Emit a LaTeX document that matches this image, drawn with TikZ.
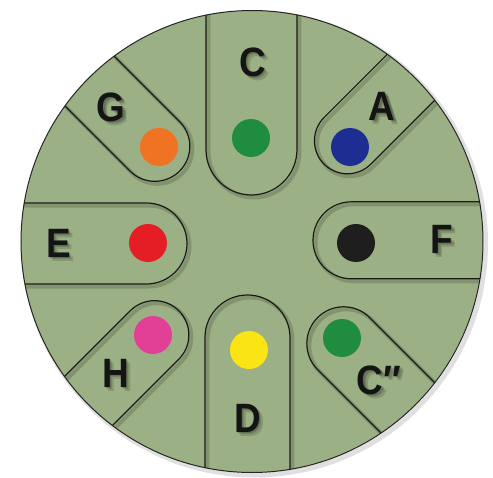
\documentclass[tikz,border=0pt]{standalone}
\usepackage{fontspec}
\setmainfont{Liberation Sans}
\newfontfamily\notefont[FakeStretch=0.9]{Liberation Sans Bold}
\definecolor{drum}{RGB}{155,176,132}
\definecolor{cgreen}{RGB}{32,140,64}
\definecolor{ablue}{RGB}{30,45,145}
\definecolor{gorange}{RGB}{240,115,35}
\definecolor{ered}{RGB}{228,30,36}
\definecolor{fblack}{RGB}{30,30,30}
\definecolor{hpink}{RGB}{226,64,150}
\definecolor{dyellow}{RGB}{250,228,20}
\tikzset{
  rim/.style={draw=black!85, line width=1pt},
  tongueline/.style={draw=black!90, line width=1.2pt},
  shade/.style={draw=black, opacity=0.16, line width=4pt},
  spot/.style={circle, minimum size=38pt, inner sep=0pt, draw=none},
  note/.style={font=\notefont\fontsize{41}{41}\selectfont, inner sep=0pt, text=black!92},
  noteshadow/.style={note, text=black, opacity=0.14},
}
\newcommand\tonguepath[4]{(260,#4+#3) -- (#2,#4+#3) arc[start angle=90,end angle=270,radius=#3] -- (260,#4-#3)}
\newcommand\tongue[4]{%
  \begin{scope}[shift={(2.5,-2.5)},rotate=#1]
    \draw[shade] \tonguepath{#1}{#2}{#3}{#4};
  \end{scope}
  \begin{scope}[rotate=#1]
    \draw[tongueline] \tonguepath{#1}{#2}{#3}{#4};
  \end{scope}}
\newcommand\notelabel[3]{%
  \foreach \d in {1,2,3} {
    \node[noteshadow, xshift=1.4*\d pt, yshift=-1.4*\d pt] (#1sh\d) at (#2) {#3};
  }
  \node[note] (#1) at (#2) {#3};}
\begin{document}
\begin{tikzpicture}[x=1pt,y=1pt]
\useasboundingbox (-252,-235.5) rectangle (241,241.5);
% outer shadow and drum
\draw[shade, line width=5pt, opacity=0.12] (2.5,-2.5) circle[radius=231];
\fill[drum] (0,0) circle[radius=231];
\begin{scope}
  \clip (0,0) circle[radius=231];
  \tongue{90}{92}{45.5}{0.5}
  \tongue{180}{105.5}{40.5}{2}
  \tongue{0}{99.5}{38.5}{1.2}
  \tongue{270}{96}{42.5}{-4.5}
  \tongue{135}{136}{35}{1.4}
  \tongue{45}{138.7}{33}{3.7}
  \tongue{225}{135}{34.3}{-2.8}
  \tongue{315}{137}{36.8}{-7.4}
\end{scope}
\draw[rim] (0,0) circle[radius=231];
% colour spots
\node[spot, fill=cgreen]  (spotC)  at (-1,103.5) {};
\node[spot, fill=ered]    (spotE)  at (-104,-1.5) {};
\node[spot, fill=fblack]  (spotF)  at (104,-1.5) {};
\node[spot, fill=dyellow] (spotD)  at (-3,-108.5) {};
\node[spot, fill=gorange] (spotG)  at (-93,94.5) {};
\node[spot, fill=ablue]   (spotA)  at (98,94.5) {};
\node[spot, fill=hpink]   (spotH)  at (-99,-93.5) {};
\node[spot, fill=cgreen]  (spotCC) at (90,-96.5) {};
% note names
\notelabel{labC}{0.5,179.5}{C}
\notelabel{labE}{-193.5,-1.5}{E}
\notelabel{labF}{189.5,2.5}{F}
\notelabel{labD}{-4.5,-176.5}{D}
\notelabel{labG}{-141,134.5}{G}
\notelabel{labA}{130,135.5}{A}
\notelabel{labH}{-136.5,-131.5}{H}
\notelabel{labCC}{127,-138.5}{C″}
\end{tikzpicture}
\end{document}
